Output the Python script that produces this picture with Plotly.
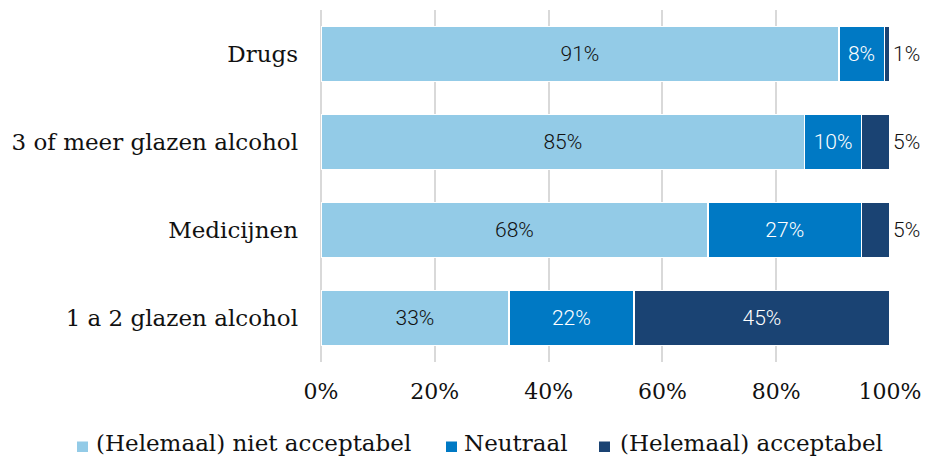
import plotly.graph_objects as go

# Categories listed bottom to top (horizontal bar order)
categories = ["1 a 2 glazen alcohol", "Medicijnen", "3 of meer glazen alcohol", "Drugs"]
niet_acceptabel = [33, 68, 85, 91]
neutraal = [22, 27, 10, 8]
acceptabel = [45, 5, 5, 1]

series_names = ["(Helemaal) niet acceptabel", "Neutraal", "(Helemaal) acceptabel"]
series_values = [niet_acceptabel, neutraal, acceptabel]
series_colors = ["#93CBE7", "#0079C4", "#1A4373"]
label_colors = ["#111111", "#FFFFFF", "#FFFFFF"]

SERIF = "DejaVu Serif"
SANS = "Roboto"

# plot area geometry (pixels)
W, H = 925, 457
ML, MR, MT, MB = 321, 35, 10, 95
PW, PH = W - ML - MR, H - MT - MB


def px_to_paper_x(px):
    return (px - ML) / PW


def px_to_paper_y(py):
    return 1 - (py - MT) / PH


fig = go.Figure()
for name, vals, color, txtcolor in zip(series_names, series_values, series_colors, label_colors):
    positions = ["inside" if v >= 8 else "outside" for v in vals]
    fig.add_trace(go.Bar(
        y=categories,
        x=vals,
        name=name,
        orientation="h",
        marker=dict(color=color, line=dict(color="#FFFFFF", width=1.5)),
        text=[f"{v}%" for v in vals],
        textposition=positions,
        insidetextanchor="middle",
        insidetextfont=dict(family=SANS, size=21, color=txtcolor, weight=300),
        outsidetextfont=dict(family=SANS, size=21, color="#111111", weight=300),
        textangle=0,
        cliponaxis=False,
        hoverinfo="skip",
        showlegend=False,
    ))

# Legend row drawn as small squares plus labels beneath the axis
legend_square_x = [77, 446, 599]
legend_text_x = [94, 462, 618]
sq = 11
sq_top, sq_bottom = 441.5, 452
text_mid = 443
for name, color, sx, tx in zip(series_names, series_colors, legend_square_x, legend_text_x):
    fig.add_shape(
        type="rect", xref="paper", yref="paper",
        x0=px_to_paper_x(sx), x1=px_to_paper_x(sx + sq),
        y0=px_to_paper_y(sq_bottom), y1=px_to_paper_y(sq_top),
        fillcolor=color, line=dict(width=0), layer="above",
    )
    fig.add_annotation(
        xref="paper", yref="paper",
        x=px_to_paper_x(tx), y=px_to_paper_y(text_mid),
        xanchor="left", yanchor="middle",
        text=name, showarrow=False,
        font=dict(family=SERIF, size=23, color="#111111"),
    )

fig.update_layout(
    barmode="stack",
    bargap=0.37,
    width=W,
    height=H,
    margin=dict(l=ML, r=MR, t=MT, b=MB, autoexpand=False),
    paper_bgcolor="white",
    plot_bgcolor="white",
    uniformtext=dict(minsize=10, mode="show"),
    showlegend=False,
    xaxis=dict(
        range=[0, 100],
        tickvals=[0, 20, 40, 60, 80, 100],
        ticktext=["0%", "20%", "40%", "60%", "80%", "100%"],
        showgrid=True,
        gridcolor="#D9D9D9",
        gridwidth=2,
        zeroline=True,
        zerolinecolor="#D9D9D9",
        zerolinewidth=2,
        showline=False,
        ticklabelstandoff=14,
        tickfont=dict(family=SERIF, size=22, color="#111111"),
    ),
    yaxis=dict(
        showgrid=False,
        showline=False,
        ticklabelstandoff=22,
        tickfont=dict(family=SERIF, size=23, color="#111111"),
    ),
)

fig.write_html("out.html")
